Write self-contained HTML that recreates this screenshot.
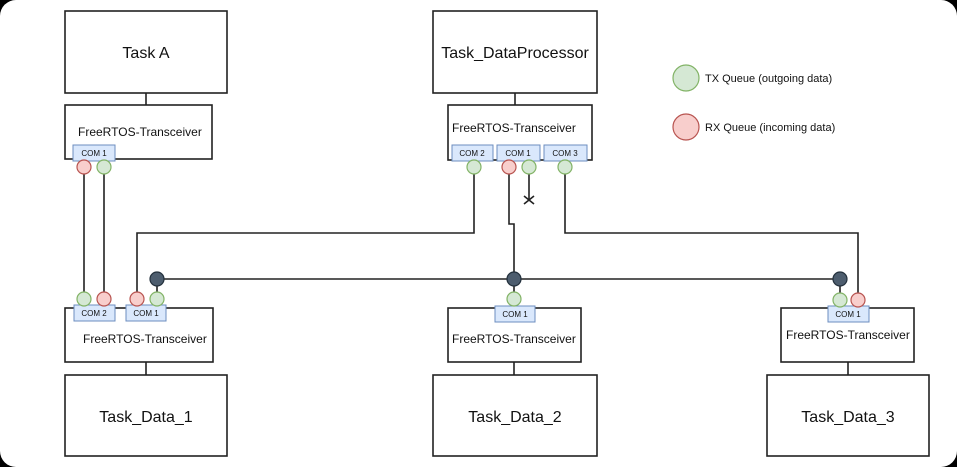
<!DOCTYPE html>
<html><head><style>
html,body{margin:0;padding:0;background:#000;}
svg{display:block;}
text{font-family:"Liberation Sans",Arial,sans-serif;fill:#111;}
</style></head><body>
<svg width="957" height="467" viewBox="0 0 957 467" xmlns="http://www.w3.org/2000/svg">
<rect x="0" y="0" width="957" height="467" fill="#000"/>
<rect x="0" y="0" width="957" height="467" rx="16" fill="#fff"/>
<g fill="none" stroke="#222" stroke-width="1.6">
<!-- top boxes -->
<rect x="65" y="11" width="162" height="82"/>
<line x1="146" y1="93" x2="146" y2="105"/>
<rect x="65" y="105" width="147" height="54"/>
<rect x="433" y="11" width="164" height="82"/>
<line x1="515" y1="93" x2="515" y2="105"/>
<rect x="448" y="105" width="144" height="55"/>
<!-- bottom -->
<rect x="65" y="308" width="148" height="54"/>
<line x1="146" y1="362" x2="146" y2="375"/>
<rect x="65" y="375" width="162" height="81"/>
<rect x="448" y="308" width="133" height="54"/>
<line x1="514" y1="362" x2="514" y2="375"/>
<rect x="433" y="375" width="164" height="81"/>
<rect x="781" y="308" width="133" height="54"/>
<line x1="848" y1="362" x2="848" y2="375"/>
<rect x="767" y="375" width="162" height="81"/>
<!-- connectors -->
<line x1="84" y1="167" x2="84" y2="299"/>
<line x1="104" y1="167" x2="104" y2="299"/>
<polyline points="137,299 137,233 474,233 474,167"/>
<line x1="157" y1="279" x2="840" y2="279"/>
<line x1="157" y1="279" x2="157" y2="299"/>
<line x1="840" y1="279" x2="840" y2="300"/>
<line x1="514" y1="279" x2="514" y2="299"/>
<polyline points="509,167 509,224 514,224 514,279"/>
<line x1="529" y1="167" x2="529" y2="200"/>
<line x1="524" y1="196" x2="534" y2="204"/>
<line x1="524" y1="204" x2="534" y2="196"/>
<polyline points="565,167 565,233 858,233 858,300"/>
</g>
<!-- COM boxes -->
<g fill="#dae8fc" stroke="#6c8ebf" stroke-width="1">
<rect x="73" y="145" width="42" height="16"/>
<rect x="452" y="145" width="41" height="16"/>
<rect x="497" y="145" width="43" height="16"/>
<rect x="544" y="145" width="43" height="16"/>
<rect x="74" y="305" width="41" height="16"/>
<rect x="126" y="305" width="40" height="16"/>
<rect x="495" y="306" width="40" height="16"/>
<rect x="828" y="306" width="41" height="16"/>
</g>
<g font-size="8" text-anchor="middle">
<text x="94" y="156">COM 1</text>
<text x="472" y="156">COM 2</text>
<text x="518" y="156">COM 1</text>
<text x="565" y="156">COM 3</text>
<text x="94" y="316">COM 2</text>
<text x="146" y="316">COM 1</text>
<text x="515" y="317">COM 1</text>
<text x="848" y="317">COM 1</text>
</g>
<!-- queue circles -->
<g stroke-width="1.2">
<g fill="#d5e8d4" stroke="#82b366">
<circle cx="104" cy="167" r="7"/><circle cx="474" cy="167" r="7"/><circle cx="529" cy="167" r="7"/><circle cx="565" cy="167" r="7"/>
<circle cx="84" cy="299" r="7"/><circle cx="157" cy="299" r="7"/><circle cx="514" cy="299" r="7"/><circle cx="840" cy="300" r="7"/>
<circle cx="686" cy="78" r="13"/>
</g>
<g fill="#f8cecc" stroke="#b85450">
<circle cx="84" cy="167" r="7"/><circle cx="509" cy="167" r="7"/>
<circle cx="104" cy="299" r="7"/><circle cx="137" cy="299" r="7"/><circle cx="858" cy="300" r="7"/>
<circle cx="686" cy="127" r="13"/>
</g>
<g fill="#4d5d6e" stroke="#23303c">
<circle cx="157" cy="279" r="7"/><circle cx="514" cy="279" r="7"/><circle cx="840" cy="279" r="7"/>
</g>
</g>
<!-- labels -->
<g text-anchor="middle">
<text x="146" y="58" font-size="16">Task A</text>
<text x="515" y="58" font-size="16">Task_DataProcessor</text>
<text x="146" y="422" font-size="16">Task_Data_1</text>
<text x="515" y="422" font-size="16">Task_Data_2</text>
<text x="848" y="422" font-size="16">Task_Data_3</text>
</g>
<g font-size="12">
<text x="78" y="136">FreeRTOS-Transceiver</text>
<text x="452" y="132">FreeRTOS-Transceiver</text>
<text x="83" y="343">FreeRTOS-Transceiver</text>
<text x="452" y="343">FreeRTOS-Transceiver</text>
<text x="786" y="339">FreeRTOS-Transceiver</text>
</g>
<g font-size="11">
<text x="705" y="82">TX Queue (outgoing data)</text>
<text x="705" y="131">RX Queue (incoming data)</text>
</g>
</svg>
</body></html>
